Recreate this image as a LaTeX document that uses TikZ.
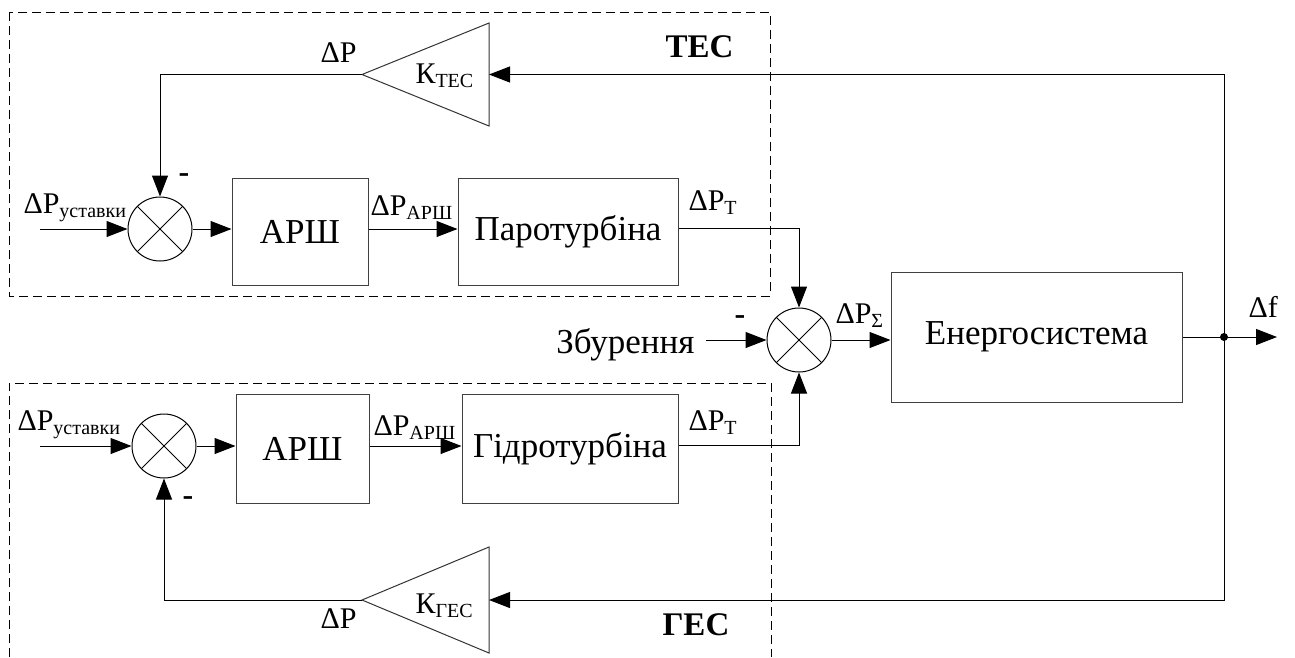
\documentclass[tikz,border=0pt]{standalone}
\usepackage{fontspec}
\setmainfont{Liberation Serif}
\usetikzlibrary{arrows.meta}
\newcommand{\dlbl}[2]{{\fontsize{30}{30}\selectfont #1}\raisebox{-4pt}{\fontsize{20}{20}\selectfont #2}}
\begin{document}
\begin{tikzpicture}[x=1pt,y=-1pt,
  line width=1pt,
  arr/.style={-{Triangle[length=21pt,width=16pt]}},
  blk/.style={draw=black!75,rectangle,inner sep=0pt,font=\fontsize{35}{35}\selectfont},
  summ/.style={draw,circle,minimum size=64pt,inner sep=0pt},
  grp/.style={dashed,dash pattern=on 9pt off 5pt,line width=0.9pt},
  lbl/.style={inner sep=0pt,anchor=base west},
  minus/.style={inner sep=0pt,font=\bfseries\fontsize{32}{32}\selectfont},
  grplbl/.style={inner sep=0pt,anchor=base west,font=\bfseries\fontsize{33}{33}\selectfont}]
\useasboundingbox (0,0) rectangle (1295,657);
% groups
\draw[grp] (9,12) rectangle (770,296);
\draw[grp] (9,657) -- (9,383) -- (771,383) -- (771,657);
% nodes
\node[summ] (s1) at (160,229) {};
\draw (s1.north west) -- (s1.south east) (s1.north east) -- (s1.south west);
\node[blk,minimum width=136pt,minimum height=107pt] (a1) at (300,231.5) {АРШ};
\node[blk,minimum width=220pt,minimum height=107pt] (p1) at (568,231.5) {Паротурбіна};
\node[summ] (s2) at (799,340) {};
\draw (s2.north west) -- (s2.south east) (s2.north east) -- (s2.south west);
\node[blk,minimum width=291pt,minimum height=130pt] (en) at (1036.5,337) {Енергосистема};
\node[summ] (s3) at (164,446) {};
\draw (s3.north west) -- (s3.south east) (s3.north east) -- (s3.south west);
\node[blk,minimum width=133pt,minimum height=109pt] (a2) at (302.5,448.5) {АРШ};
\node[blk,minimum width=216pt,minimum height=109pt] (g2) at (570,448.5) {Гідротурбіна};
\node[inner sep=0pt,anchor=base east,font=\fontsize{35}{35}\selectfont] (zb) at (695,353) {Збурення};
% triangles
\coordinate (kTa) at (362,74.5);
\coordinate (kTi) at (489,74.5);
\draw[draw=black!80] (kTa) -- (489,23) -- (489,126) -- cycle;
\coordinate (kGa) at (362,600);
\coordinate (kGi) at (489,600);
\draw[draw=black!80] (kGa) -- (489,547) -- (489,653) -- cycle;
% coordinates
\coordinate (in1) at (40,229);
\coordinate (in3) at (40,446);
\coordinate (j) at (1224,337);
\coordinate (out) at (1277,337);
% connectors
\draw[arr] (in1) -- (s1.west);
\draw[arr] (s1.east) -- (s1.east -| a1.west);
\draw[arr] (s1.east -| a1.east) -- (s1.east -| p1.west);
\draw[arr] (p1.east |- 0,228) -| (s2.north);
\draw[arr] ([xshift=11pt]zb.east |- s2.west) -- (s2.west);
\draw[arr] (s2.east) -- (s2.east -| en.west);
\draw[arr] (en.east |- j) -- (out);
\fill (j) circle (4pt);
\draw[arr] (j) |- (kTi);
\draw[arr] (kTa) -| (s1.north);
\draw[arr] (in3) -- (s3.west);
\draw[arr] (s3.east) -- (s3.east -| a2.west);
\draw[arr] (s3.east -| a2.east) -- (s3.east -| g2.west);
\draw[arr] (g2.east |- 0,445) -| (s2.south);
\draw[arr] (j) |- (kGi);
\draw[arr] (kGa) -| (s3.south);
% labels
\node[lbl] (l1) at (23,213) {\dlbl{ΔP}{уставки}};
\node[lbl] (l2) at (370,215) {\dlbl{ΔP}{АРШ}};
\node[lbl] (l3) at (688,210) {\dlbl{ΔP}{Т}};
\node[lbl,font=\fontsize{30}{30}\selectfont] (l4) at (320,62) {ΔP};
\node[lbl] (l5) at (415,83) {\dlbl{К}{ТЕС}};
\node[grplbl] (l6) at (665,57) {ТЕС};
\node[minus] (m1) at (184,178) {-};
\node[minus] (m2) at (740,320) {-};
\node[lbl] (l7) at (835,323) {\dlbl{ΔP}{Σ}};
\node[lbl,font=\fontsize{30}{30}\selectfont] (l8) at (1248,317) {Δf};
\node[lbl] (l9) at (17,430) {\dlbl{ΔP}{уставки}};
\node[lbl] (l10) at (373,435) {\dlbl{ΔP}{АРШ}};
\node[lbl] (l11) at (688,430) {\dlbl{ΔP}{Т}};
\node[minus] (m3) at (188,501) {-};
\node[lbl,font=\fontsize{30}{30}\selectfont] (l12) at (320,628) {ΔP};
\node[lbl] (l13) at (415,613) {\dlbl{К}{ГЕС}};
\node[grplbl] (l14) at (662,635) {ГЕС};
\end{tikzpicture}
\end{document}
